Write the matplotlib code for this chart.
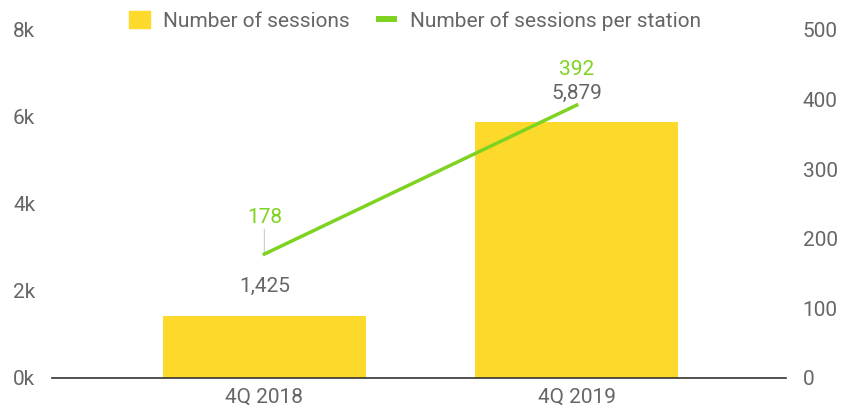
import matplotlib.pyplot as plt
from matplotlib.patches import Rectangle
from matplotlib.lines import Line2D

plt.rcParams['font.family'] = ['Roboto', 'DejaVu Sans']

quarters = ['4Q 2018', '4Q 2019']
sessions = [1425, 5879]
per_station = [178, 392]

bar_color = '#FDD92B'
line_color = '#7ED321'
text_color = '#666666'
fs = 15

fig = plt.figure(figsize=(8.44, 4.09), dpi=100)
ax = fig.add_axes([0.0616, 0.0758, 0.8696, 0.851])
x = range(len(quarters))
ax.bar(x, sessions, width=0.65, color=bar_color, zorder=2)
ax.set_xlim(-0.68, 1.67)
ax.set_ylim(0, 8000)
ax.set_yticks([0, 2000, 4000, 6000, 8000])
ax.set_yticklabels(['0k', '2k', '4k', '6k', '8k'])
ax.set_xticks(list(x))
ax.set_xticklabels(quarters)
for s in ['top', 'left', 'right']:
    ax.spines[s].set_visible(False)
ax.spines['bottom'].set_color('#333333')
ax.spines['bottom'].set_linewidth(1.2)
ax.spines['bottom'].set_zorder(3)
ax.tick_params(length=0, labelsize=fs, colors=text_color, pad=7)
ax.tick_params(axis='y', pad=12)

for xi, v in zip(x, sessions):
    ax.annotate(f'{v:,}', (xi, v), xytext=(0, 21), textcoords='offset points',
                ha='center', va='center', fontsize=fs, color=text_color)

ax2 = ax.twinx()
ax2.plot(list(x), per_station, color=line_color, lw=2.5, zorder=4)
ax2.set_ylim(0, 500)
ax2.set_yticks([0, 100, 200, 300, 400, 500])
for s in ax2.spines.values():
    s.set_visible(False)
ax2.tick_params(length=0, labelsize=fs, colors=text_color, pad=12)

# green value labels
ax2.annotate(f'{per_station[0]}', (0, per_station[0]), xytext=(0, 26),
             textcoords='offset points', ha='center', va='center',
             fontsize=fs, color=line_color)
ax2.annotate('', (0, per_station[0]), xytext=(0, 18), textcoords='offset points',
             arrowprops=dict(arrowstyle='-', color='#cccccc', lw=0.8,
                             shrinkA=0, shrinkB=0))
ax2.annotate(f'{per_station[1]}', (1, per_station[1]), xytext=(0, 26),
             textcoords='offset points', ha='center', va='center',
             fontsize=fs, color=line_color)

handles = [Rectangle((0, 0), 1, 1, color=bar_color),
           Line2D([0], [0], color=line_color, lw=4.3, solid_capstyle='butt')]
fig.legend(handles, ['Number of sessions', 'Number of sessions per station'],
           loc='center left', bbox_to_anchor=(129 / 844, 1 - 21 / 409), ncol=2,
           frameon=False, fontsize=fs, labelcolor=text_color, handlelength=1.0,
           handleheight=0.82, columnspacing=1.25, handletextpad=0.65,
           borderpad=0, borderaxespad=0)

fig.savefig('out.png', dpi=100)
